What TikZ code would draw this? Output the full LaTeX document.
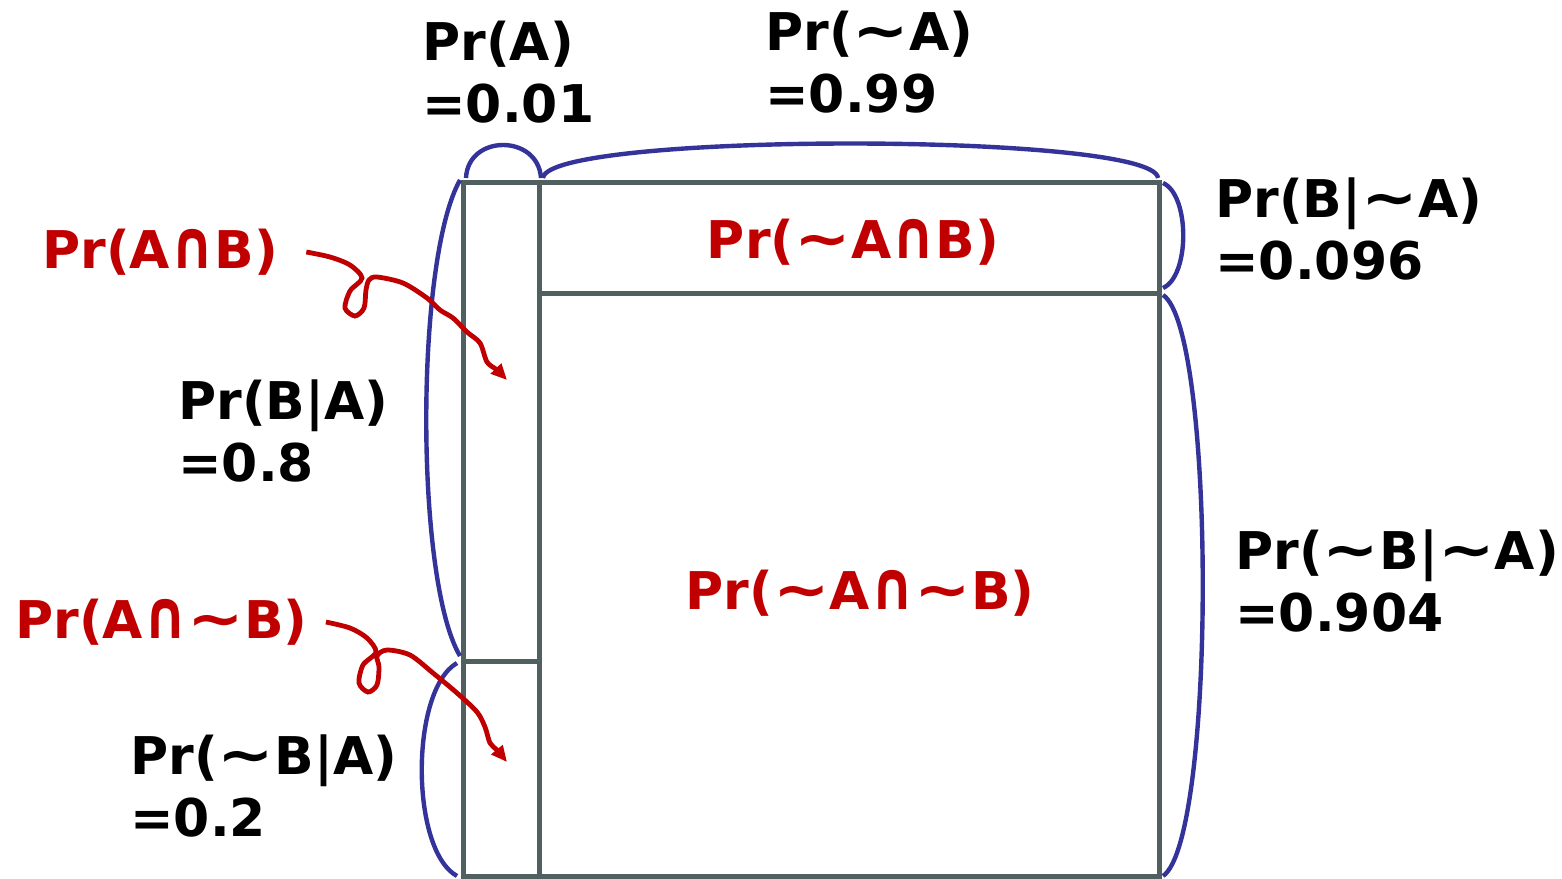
\documentclass[tikz,border=0pt]{standalone}
\usepackage{fontspec}
\setmainfont{DejaVu Sans}
\usepackage{xcolor}
\usepackage{graphicx}
\usetikzlibrary{arrows.meta}
\definecolor{boxgray}{RGB}{80,96,96}
\definecolor{braceblue}{RGB}{51,51,153}
\definecolor{probred}{RGB}{192,0,0}
\newcommand\nt{\scalebox{1.3}[1.1]{∼}}
\newcommand\ca{\scalebox{1.05}[1.3]{∩}}

\begin{document}
\begin{tikzpicture}[x=0.5pt, y=-0.5pt,
  every node/.style={inner sep=0pt, font=\fontsize{26}{31}\selectfont\bfseries},
  prob/.style={align=left, anchor=west},
  joint/.style={text=probred},
  box/.style={draw=boxgray, line width=2.5pt},
  brace/.style={draw=braceblue, line width=2.2pt},
  squig/.style={draw=probred, line width=2.4pt, -{Triangle[length=8pt,width=7pt]}}]
\useasboundingbox (0,0) rectangle (1562,878);

% the unit square
\coordinate (tl) at (463,182);
\coordinate (br) at (1159,876);
\coordinate (cut) at (539,182);
\coordinate (cutb) at (539,876);
\draw[box] (tl) rectangle (br);
\draw[box] (cut) -- (cutb);
\draw[box] (539,293) -- (1159,293);
\draw[box] (463,661) -- (539,661);

% braces
\draw[brace] (466,178) .. controls (468,134) and (538,134) .. (541,178);
\draw[brace] (543,178) .. controls (547,132) and (1154,132) .. (1158,178);
\draw[brace] (460,180) .. controls (415,260) and (415,580) .. (460,656);
\draw[brace] (457,663) .. controls (410,690) and (410,850) .. (457,876);
\draw[brace] (1163,183) .. controls (1190,195) and (1190,276) .. (1163,288);
\draw[brace] (1163,295) .. controls (1216,330) and (1216,840) .. (1163,876);

% probabilities
\node[prob] (pA) at (422,72) {Pr(A)\\=0.01};
\node[prob] (pnA) at (765,62) {Pr(\nt A)\\=0.99};
\node[prob] (pBnA) at (1215,229) {Pr(B|\nt A)\\=0.096};
\node[prob] (pBA) at (178,431) {Pr(B|A)\\=0.8};
\node[prob] (pnBnA) at (1235,581) {Pr(\nt B|\nt A)\\=0.904};
\node[prob] (pnBA) at (130,786) {Pr(\nt B|A)\\=0.2};

% joint probabilities
\node[joint, anchor=west] (lAB) at (42,252) {Pr(A\ca B)};
\node[joint, anchor=west] (lAnB) at (15,622) {Pr(A\ca\nt B)};
\node[joint] (lnAB) at (853,242) {Pr(\nt A\ca B)};
\node[joint] (lnAnB) at (860,593) {Pr(\nt A\ca\nt B)};

\coordinate (tAB) at (507,380);
\coordinate (tAnB) at (507,762);
\draw[squig] plot[smooth] coordinates {([xshift=14pt]lAB.east) (330,257) (350,265) (362,278)
  (350,291) (345,308) (355,316) (364,308) (366,290) (369,280) (377,277) (403,283) (427,298)
  (440,310) (453,318) (467,332) (480,343) (487,362) (497,370) (tAB)};
\draw[squig] plot[smooth] coordinates {([xshift=9pt]lAnB.east) (350,628) (367,638) (376,652)
  (363,665) (359,683) (368,692) (377,685) (379,667) (377,656) (387,650) (410,655) (433,673)
  (457,693) (477,712) (485,727) (490,743) (497,750) (tAnB)};
\end{tikzpicture}
\end{document}
